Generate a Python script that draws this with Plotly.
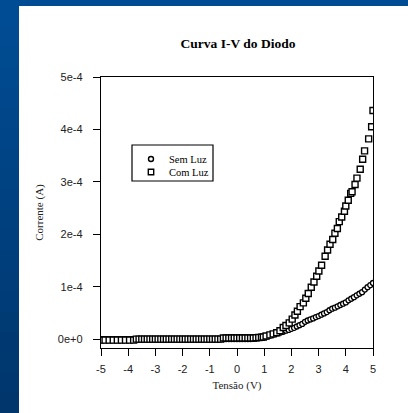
import plotly.graph_objects as go

# ---- data (currents in A) ----
sem_luz_x = [-5.0, -4.9, -4.8, -4.7, -4.6, -4.5, -4.4, -4.3, -4.2, -4.1,
             -4.0, -3.9, -3.8, -3.7, -3.6, -3.5, -3.4, -3.3, -3.2, -3.1,
             -3.0, -2.9, -2.8, -2.7, -2.6, -2.5, -2.4, -2.3, -2.2, -2.1,
             -2.0, -1.9, -1.8, -1.7, -1.6, -1.5, -1.4, -1.3, -1.2, -1.1,
             -1.0, -0.9, -0.8, -0.7, -0.6, -0.5, -0.4, -0.3, -0.2, -0.1,
             0.0, 0.1, 0.2, 0.3, 0.4, 0.5, 0.6, 0.7, 0.8, 0.9,
             1.0, 1.1, 1.2, 1.3, 1.4, 1.5, 1.6, 1.7, 1.8, 1.9,
             2.0, 2.1, 2.2, 2.3, 2.4, 2.5, 2.6, 2.7, 2.8, 2.9,
             3.0, 3.1, 3.2, 3.3, 3.4, 3.5, 3.6, 3.7, 3.8, 3.9,
             4.0, 4.1, 4.2, 4.3, 4.4, 4.5, 4.6, 4.7, 4.8, 4.9, 5.0]
sem_luz_y = [0.0, 0.0, 0.0, 0.0, 0.0, 0.0, 0.0, 0.0, 0.0, 0.0,
             0.0, 0.0, 0.0, 0.0, 0.0, 0.0, 0.0, 0.0, 0.0, 0.0,
             0.0, 0.0, 0.0, 0.0, 0.0, 0.0, 0.0, 0.0, 0.0, 0.0,
             0.0, 0.0, 0.0, 0.0, 0.0, 0.0, 0.0, 0.0, 0.0, 0.0,
             0.0, 0.0, 0.0, 0.0, 0.0, 0.0, 0.0, 0.0, 0.0, 0.0,
             0.0, 0.0, 0.0, 0.0, 0.0, 0.0, 0.1e-5, 0.15e-5, 0.2e-5, 0.3e-5,
             0.4e-5, 0.5e-5, 0.65e-5, 0.8e-5, 0.95e-5, 1.1e-5, 1.25e-5, 1.4e-5, 1.6e-5, 1.75e-5,
             1.95e-5, 2.15e-5, 2.4e-5, 2.65e-5, 2.9e-5, 3.3e-5, 3.55e-5, 3.75e-5, 3.95e-5, 4.2e-5,
             4.4e-5, 4.65e-5, 4.9e-5, 5.15e-5, 5.5e-5, 5.8e-5, 6.0e-5, 6.25e-5, 6.5e-5, 6.75e-5,
             7.0e-5, 7.4e-5, 7.7e-5, 8.0e-5, 8.35e-5, 8.65e-5, 8.95e-5, 9.45e-5, 9.9e-5, 10.3e-5, 10.7e-5]

com_luz_x = [-5.0, -4.85, -4.7, -4.55, -4.4, -4.25, -4.1, -3.95, -3.8,
             -3.7, -3.6, -3.5, -3.4, -3.3, -3.2, -3.1, -3.0, -2.9, -2.8,
             -2.7, -2.6, -2.5, -2.4, -2.3, -2.2, -2.1, -2.0, -1.9, -1.8,
             -1.7, -1.6, -1.5, -1.4, -1.3, -1.2, -1.1, -1.0, -0.9, -0.8,
             -0.7, -0.6, -0.5, -0.4, -0.3, -0.2, -0.1, 0.0, 0.1, 0.2,
             0.3, 0.4, 0.5, 0.6, 0.7, 0.8, 0.9,
             0.97, 1.07, 1.21, 1.33, 1.46, 1.58, 1.70, 1.80, 1.92, 2.03,
             2.13, 2.22, 2.32, 2.44, 2.53, 2.62, 2.73, 2.83, 2.93, 3.01,
             3.11, 3.24, 3.33, 3.42, 3.52, 3.60, 3.69, 3.76, 3.85, 3.95,
             4.00, 4.09, 4.18, 4.23, 4.34, 4.41, 4.53, 4.62, 4.69, 4.84,
             4.95, 5.00]
com_luz_y = [-0.2e-5, -0.2e-5, -0.2e-5, -0.2e-5, -0.2e-5, -0.2e-5, -0.2e-5, -0.2e-5, -0.2e-5,
             0.0, 0.0, 0.0, 0.0, 0.0, 0.0, 0.0, 0.0, 0.0, 0.0,
             0.0, 0.0, 0.0, 0.0, 0.0, 0.0, 0.0, 0.0, 0.0, 0.0,
             0.0, 0.0, 0.0, 0.0, 0.0, 0.0, 0.0, 0.0, 0.0, 0.0,
             0.0, 0.0, 0.2e-5, 0.2e-5, 0.2e-5, 0.2e-5, 0.2e-5, 0.2e-5, 0.2e-5, 0.2e-5,
             0.2e-5, 0.2e-5, 0.2e-5, 0.2e-5, 0.25e-5, 0.3e-5, 0.35e-5,
             0.4e-5, 0.6e-5, 0.8e-5, 1.0e-5, 1.2e-5, 1.6e-5, 2.2e-5, 2.6e-5, 3.1e-5, 3.8e-5,
             4.6e-5, 5.3e-5, 6.2e-5, 6.9e-5, 7.8e-5, 8.7e-5, 9.9e-5, 10.9e-5, 12.0e-5, 13.0e-5,
             14.1e-5, 15.8e-5, 17.0e-5, 18.1e-5, 19.0e-5, 20.2e-5, 21.1e-5, 22.4e-5, 23.3e-5, 24.4e-5,
             25.4e-5, 26.5e-5, 27.8e-5, 28.1e-5, 29.5e-5, 30.7e-5, 32.4e-5, 34.3e-5, 35.9e-5, 38.2e-5,
             40.5e-5, 43.6e-5]

y_tickvals = [0, 1e-4, 2e-4, 3e-4, 4e-4, 5e-4]
y_ticktext = ["0e+0", "1e-4", "2e-4", "3e-4", "4e-4", "5e-4"]
x_tickvals = [-5, -4, -3, -2, -1, 0, 1, 2, 3, 4, 5]
x_ticktext = ["-5", "-4", "-3", "-2", "-1", "0", "1", "2", "3", "4", "5"]
series_names = ["Sem Luz", "Com Luz"]

W, H = 408, 413
L, R, T, B = 101, 35, 77, 65
pw, ph = W - L - R, H - T - B

def px2fx(px):
    return (px - L) / pw

def py2fy(py):
    return (H - B - py) / ph

fig = go.Figure()
fig.add_trace(go.Scatter(
    x=sem_luz_x, y=sem_luz_y, mode="markers", name=series_names[0],
    marker=dict(symbol="circle", size=5, color="white",
                line=dict(color="black", width=1.3))))
fig.add_trace(go.Scatter(
    x=com_luz_x, y=com_luz_y, mode="markers", name=series_names[1],
    marker=dict(symbol="square", size=6, color="white",
                line=dict(color="black", width=1.4))))

shapes = []
# white page area over blue background
shapes.append(dict(type="rect", xref="paper", yref="paper", layer="below",
                   x0=px2fx(19), x1=px2fx(W + 5), y0=py2fy(H + 5), y1=py2fy(6),
                   fillcolor="white", line=dict(width=0)))
# left band gradient
top_c = (0, 76, 148)
bot_c = (0, 54, 108)
n = 20
for i in range(n):
    t = i / (n - 1)
    c = tuple(int(round(top_c[k] + (bot_c[k] - top_c[k]) * t)) for k in range(3))
    y0p = 6 + (H - 6) * i / n
    y1p = 6 + (H - 6) * (i + 1) / n + 1
    shapes.append(dict(type="rect", xref="paper", yref="paper", layer="below",
                       x0=px2fx(-2), x1=px2fx(19), y0=py2fy(y1p), y1=py2fy(y0p),
                       fillcolor="rgb(%d,%d,%d)" % c, line=dict(width=0)))

# legend box (drawn manually for compact spacing)
shapes.append(dict(type="rect", xref="paper", yref="paper", layer="above",
                   x0=px2fx(132), x1=px2fx(213), y0=py2fy(181), y1=py2fy(145),
                   fillcolor="white", line=dict(color="black", width=1.2)))
leg_rows = [159, 172]
shapes.append(dict(type="circle", xref="paper", yref="paper", layer="above",
                   xsizemode="pixel", ysizemode="pixel",
                   xanchor=px2fx(151), yanchor=py2fy(leg_rows[0]),
                   x0=-2.5, x1=2.5, y0=-2.5, y1=2.5,
                   fillcolor="white", line=dict(color="black", width=1.4)))
shapes.append(dict(type="rect", xref="paper", yref="paper", layer="above",
                   xsizemode="pixel", ysizemode="pixel",
                   xanchor=px2fx(151), yanchor=py2fy(leg_rows[1]),
                   x0=-2.7, x1=2.7, y0=-2.7, y1=2.7,
                   fillcolor="white", line=dict(color="black", width=1.4)))

annotations = []
for name, row in zip(series_names, leg_rows):
    annotations.append(dict(text=name, xref="paper", yref="paper",
                            x=px2fx(167), y=py2fy(row), xanchor="left",
                            yanchor="middle", showarrow=False,
                            font=dict(family="Liberation Serif", size=10.5, color="black")))

fig.update_layout(
    width=W, height=H,
    margin=dict(l=L, r=R, t=T, b=B, autoexpand=False),
    paper_bgcolor="rgb(0,76,148)",
    plot_bgcolor="white",
    shapes=shapes,
    annotations=annotations,
    showlegend=False,
    title=dict(text="<b>Curva I-V do Diodo</b>", x=px2fx(238), xref="paper",
               xanchor="center", y=1 - 43 / H, yanchor="middle",
               font=dict(family="Liberation Serif", size=13.5, color="black")),
    font=dict(family="Liberation Sans", size=11, color="#222"),
)
fig.update_xaxes(range=[-5, 5], tickvals=x_tickvals, ticktext=x_ticktext,
                 ticks="outside", ticklen=7,
                 tickwidth=1.2, tickcolor="black", showline=True, linecolor="black",
                 linewidth=1.3, mirror=True, showgrid=False, zeroline=False,
                 ticklabelstandoff=4, automargin=False,
                 tickfont=dict(family="Liberation Sans", size=11, color="#222"),
                 title=dict(text="Tensão (V)", standoff=6,
                            font=dict(family="Liberation Serif", size=11, color="#222")))
fig.update_yaxes(range=[-0.17e-4, 5e-4], tickvals=y_tickvals, ticktext=y_ticktext,
                 ticks="outside", ticklen=7, tickwidth=1.2, tickcolor="black",
                 showline=True, linecolor="black", linewidth=1.3, mirror=True,
                 showgrid=False, zeroline=False, ticklabelstandoff=8, automargin=False,
                 tickfont=dict(family="Liberation Sans", size=11, color="#222"),
                 title=dict(text="Corrente (A)", standoff=12,
                            font=dict(family="Liberation Serif", size=11, color="#222")))

fig.write_html("out.html", config={"displayModeBar": False},
               post_script="document.body.style.margin='0';document.body.style.padding='0';")
